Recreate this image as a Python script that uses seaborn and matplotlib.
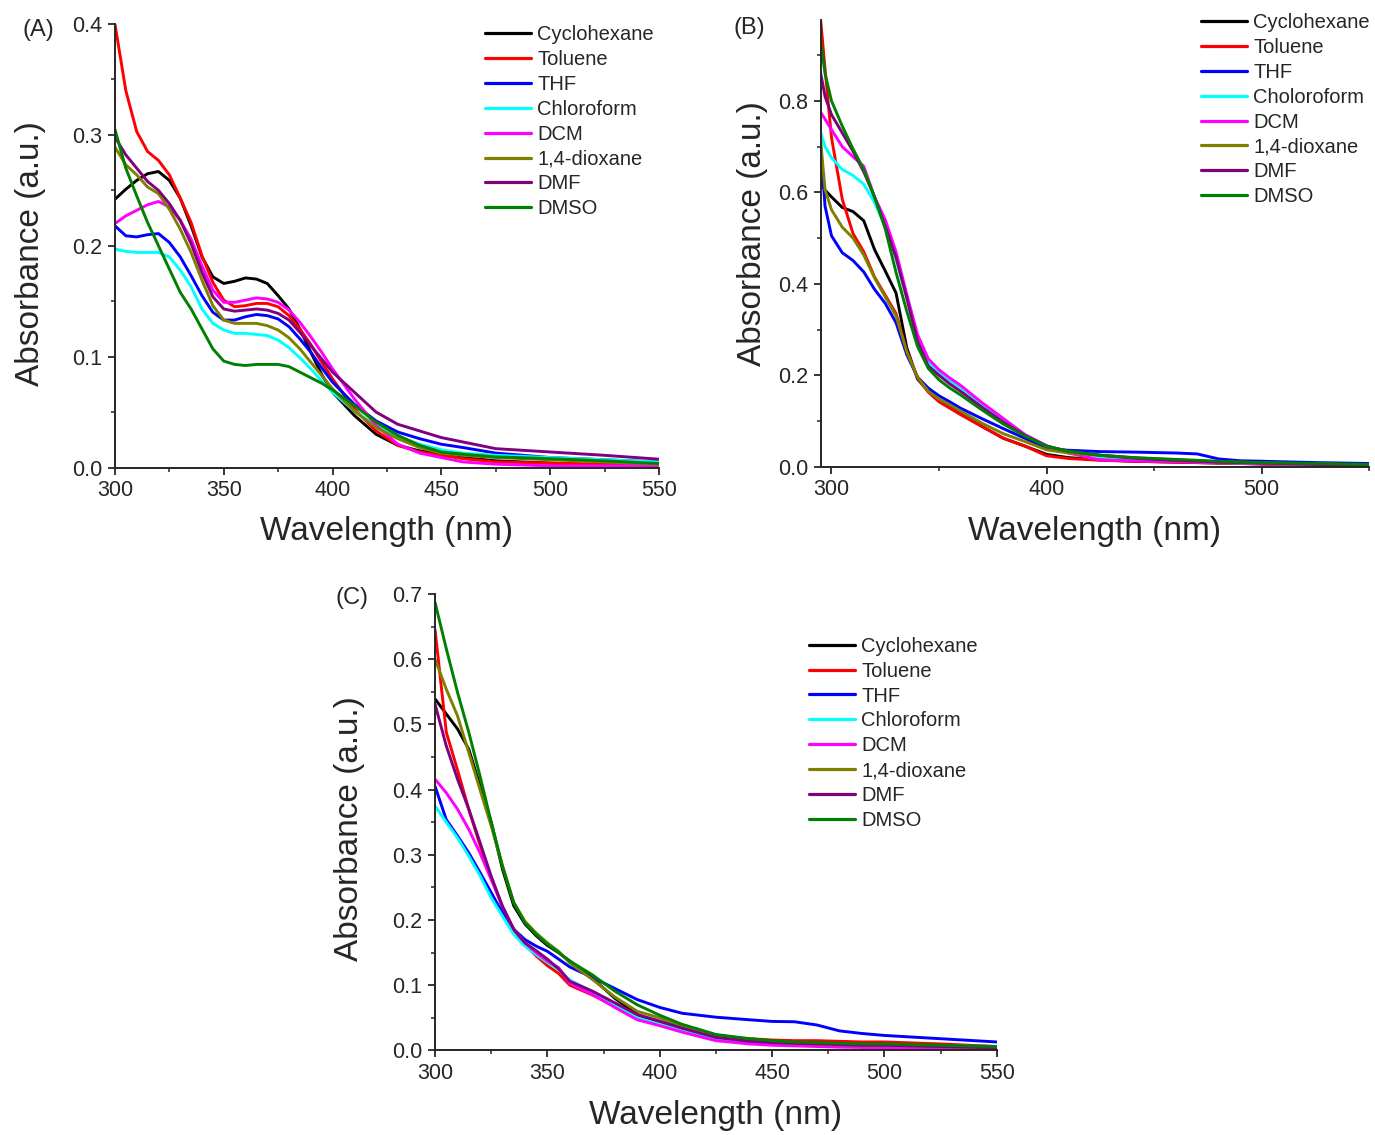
import pandas as pd
import matplotlib
matplotlib.use("Agg")
import matplotlib.pyplot as plt
from matplotlib.ticker import MultipleLocator
import seaborn as sns

sns.set_style('ticks')
plt.rcParams['font.family'] = ['Liberation Sans', 'DejaVu Sans']

# legend labels (panel B keeps the original spelling)
solvents = ['Cyclohexane', 'Toluene', 'THF', 'Chloroform', 'DCM', '1,4-dioxane', 'DMF', 'DMSO']
solvents_b = ['Cyclohexane', 'Toluene', 'THF', 'Choloroform', 'DCM', '1,4-dioxane', 'DMF', 'DMSO']
colors = ['#000000', '#FF0000', '#0000FF', '#00FFFF', '#FF00FF', '#808000', '#800080', '#008000']

# ---- Panel A ----
wl_a = [300, 305, 310, 315, 320, 325, 330, 335, 340, 345, 350, 355, 360, 365, 370, 375,
        380, 385, 390, 395, 400, 410, 420, 430, 440, 450, 460, 475, 500, 525, 550]
a_cyclohexane = [0.242, 0.251, 0.259, 0.265, 0.267, 0.259, 0.243, 0.218, 0.190, 0.172, 0.166, 0.168, 0.171, 0.170, 0.166, 0.155,
                 0.143, 0.125, 0.104, 0.084, 0.068, 0.047, 0.030, 0.020, 0.015, 0.012, 0.009, 0.006, 0.004, 0.002, 0.001]
a_toluene = [0.400, 0.340, 0.303, 0.285, 0.277, 0.264, 0.243, 0.221, 0.191, 0.167, 0.151, 0.145, 0.146, 0.148, 0.148, 0.145,
             0.137, 0.125, 0.111, 0.095, 0.080, 0.053, 0.033, 0.020, 0.014, 0.011, 0.008, 0.005, 0.004, 0.003, 0.002]
a_thf = [0.218, 0.209, 0.208, 0.210, 0.211, 0.203, 0.190, 0.173, 0.155, 0.140, 0.133, 0.133, 0.136, 0.138, 0.137, 0.134,
         0.127, 0.116, 0.104, 0.090, 0.077, 0.057, 0.042, 0.032, 0.026, 0.021, 0.018, 0.013, 0.009, 0.007, 0.005]
a_chloroform = [0.197, 0.195, 0.194, 0.194, 0.194, 0.190, 0.178, 0.163, 0.143, 0.130, 0.124, 0.121, 0.121, 0.120, 0.119, 0.115,
                0.108, 0.099, 0.089, 0.078, 0.068, 0.051, 0.038, 0.028, 0.021, 0.016, 0.013, 0.011, 0.009, 0.007, 0.005]
a_dcm = [0.220, 0.227, 0.232, 0.237, 0.240, 0.235, 0.223, 0.206, 0.182, 0.160, 0.149, 0.149, 0.151, 0.153, 0.152, 0.149,
         0.142, 0.131, 0.118, 0.104, 0.089, 0.062, 0.038, 0.021, 0.013, 0.009, 0.005, 0.003, 0.0015, 0.0015, 0.0015]
a_dioxane = [0.289, 0.273, 0.264, 0.253, 0.247, 0.233, 0.215, 0.194, 0.169, 0.146, 0.133, 0.130, 0.130, 0.130, 0.128, 0.124,
             0.117, 0.107, 0.095, 0.083, 0.071, 0.051, 0.036, 0.026, 0.018, 0.013, 0.011, 0.009, 0.007, 0.005, 0.003]
a_dmf = [0.298, 0.282, 0.270, 0.258, 0.250, 0.238, 0.223, 0.202, 0.176, 0.154, 0.143, 0.141, 0.142, 0.143, 0.142, 0.139,
         0.133, 0.122, 0.110, 0.098, 0.086, 0.068, 0.050, 0.039, 0.033, 0.027, 0.023, 0.017, 0.014, 0.011, 0.0075]
a_dmso = [0.305, 0.270, 0.245, 0.221, 0.200, 0.179, 0.158, 0.143, 0.125, 0.107, 0.096, 0.093, 0.092, 0.093, 0.093, 0.093,
          0.091, 0.086, 0.081, 0.076, 0.070, 0.056, 0.041, 0.029, 0.020, 0.014, 0.012, 0.0096, 0.008, 0.006, 0.0036]

# ---- Panel B ----
wl_b = [295, 297, 300, 305, 310, 315, 320, 325, 330, 335, 340, 345, 350, 355, 360, 370,
        380, 390, 400, 410, 425, 440, 450, 460, 470, 480, 490, 500, 525, 550]
b_cyclohexane = [0.620, 0.605, 0.590, 0.567, 0.558, 0.538, 0.475, 0.428, 0.380, 0.260, 0.192, 0.165, 0.145, 0.130, 0.115, 0.088,
                 0.062, 0.045, 0.027, 0.020, 0.015, 0.012, 0.011, 0.010, 0.009, 0.008, 0.007, 0.006, 0.004, 0.003]
b_toluene = [0.975, 0.870, 0.720, 0.585, 0.510, 0.470, 0.415, 0.375, 0.335, 0.253, 0.195, 0.163, 0.142, 0.128, 0.114, 0.088,
             0.062, 0.045, 0.024, 0.018, 0.014, 0.012, 0.011, 0.010, 0.009, 0.008, 0.007, 0.006, 0.004, 0.003]
b_thf = [0.700, 0.570, 0.505, 0.468, 0.451, 0.426, 0.388, 0.357, 0.315, 0.245, 0.196, 0.172, 0.155, 0.142, 0.128, 0.105,
         0.083, 0.062, 0.040, 0.036, 0.033, 0.032, 0.031, 0.030, 0.028, 0.017, 0.013, 0.012, 0.009, 0.007]
b_chloroform = [0.730, 0.700, 0.676, 0.650, 0.637, 0.618, 0.578, 0.525, 0.455, 0.368, 0.283, 0.228, 0.205, 0.187, 0.173, 0.137,
                0.103, 0.070, 0.045, 0.033, 0.022, 0.017, 0.014, 0.012, 0.011, 0.009, 0.008, 0.007, 0.005, 0.004]
b_dcm = [0.775, 0.760, 0.737, 0.700, 0.678, 0.657, 0.590, 0.540, 0.470, 0.377, 0.289, 0.236, 0.212, 0.194, 0.178, 0.140,
         0.105, 0.070, 0.046, 0.030, 0.015, 0.013, 0.012, 0.011, 0.010, 0.009, 0.008, 0.007, 0.005, 0.003]
b_dioxane = [0.710, 0.606, 0.562, 0.524, 0.500, 0.463, 0.413, 0.371, 0.330, 0.251, 0.196, 0.165, 0.148, 0.135, 0.122, 0.095,
             0.072, 0.055, 0.037, 0.030, 0.025, 0.020, 0.017, 0.015, 0.013, 0.011, 0.010, 0.009, 0.006, 0.004]
b_dmf = [0.860, 0.810, 0.770, 0.730, 0.690, 0.645, 0.590, 0.525, 0.458, 0.369, 0.274, 0.220, 0.200, 0.181, 0.165, 0.130,
         0.097, 0.068, 0.045, 0.034, 0.025, 0.019, 0.016, 0.014, 0.012, 0.010, 0.009, 0.008, 0.005, 0.003]
b_dmso = [0.930, 0.860, 0.800, 0.745, 0.695, 0.650, 0.590, 0.520, 0.425, 0.340, 0.263, 0.215, 0.190, 0.172, 0.157, 0.124,
          0.093, 0.067, 0.045, 0.034, 0.025, 0.020, 0.018, 0.016, 0.014, 0.012, 0.010, 0.009, 0.007, 0.005]

# ---- Panel C ----
wl_c = [300, 305, 310, 315, 320, 325, 330, 335, 340, 345, 350, 355, 360, 370,
        380, 390, 400, 410, 425, 440, 450, 460, 470, 480, 490, 500, 525, 550]
c_cyclohexane = [0.539, 0.516, 0.493, 0.462, 0.406, 0.350, 0.278, 0.222, 0.194, 0.176, 0.161, 0.150, 0.137, 0.111,
                 0.080, 0.055, 0.041, 0.031, 0.019, 0.014, 0.011, 0.010, 0.009, 0.008, 0.008, 0.007, 0.006, 0.005]
c_toluene = [0.645, 0.488, 0.430, 0.370, 0.315, 0.265, 0.220, 0.185, 0.162, 0.145, 0.130, 0.118, 0.100, 0.085,
             0.068, 0.050, 0.040, 0.031, 0.022, 0.018, 0.016, 0.015, 0.015, 0.014, 0.013, 0.013, 0.010, 0.006]
c_thf = [0.405, 0.354, 0.329, 0.303, 0.273, 0.242, 0.211, 0.186, 0.170, 0.160, 0.152, 0.140, 0.128, 0.112,
         0.095, 0.078, 0.066, 0.057, 0.051, 0.047, 0.0445, 0.044, 0.039, 0.030, 0.026, 0.023, 0.018, 0.013]
c_chloroform = [0.375, 0.350, 0.326, 0.298, 0.268, 0.234, 0.206, 0.178, 0.160, 0.147, 0.135, 0.124, 0.108, 0.090,
                0.070, 0.050, 0.040, 0.030, 0.018, 0.013, 0.011, 0.010, 0.009, 0.009, 0.008, 0.008, 0.007, 0.006]
c_dcm = [0.416, 0.395, 0.370, 0.339, 0.303, 0.262, 0.221, 0.186, 0.165, 0.150, 0.137, 0.127, 0.103, 0.086,
         0.066, 0.047, 0.038, 0.028, 0.015, 0.010, 0.008, 0.007, 0.006, 0.005, 0.0045, 0.004, 0.002, 0.001]
c_dioxane = [0.600, 0.554, 0.513, 0.457, 0.400, 0.344, 0.283, 0.227, 0.198, 0.180, 0.165, 0.152, 0.134, 0.109,
             0.082, 0.060, 0.050, 0.037, 0.023, 0.016, 0.013, 0.011, 0.010, 0.009, 0.008, 0.008, 0.006, 0.004]
c_dmf = [0.531, 0.467, 0.416, 0.370, 0.319, 0.267, 0.221, 0.186, 0.165, 0.153, 0.140, 0.125, 0.106, 0.091,
         0.073, 0.055, 0.045, 0.034, 0.020, 0.014, 0.012, 0.011, 0.010, 0.009, 0.008, 0.008, 0.006, 0.004]
c_dmso = [0.687, 0.616, 0.549, 0.488, 0.421, 0.350, 0.283, 0.227, 0.196, 0.178, 0.163, 0.150, 0.137, 0.116,
          0.091, 0.070, 0.054, 0.040, 0.0245, 0.018, 0.015, 0.013, 0.012, 0.011, 0.010, 0.010, 0.008, 0.006]


def long_table(wl, series, labels):
    frames = []
    for name, vals in zip(labels, series):
        frames.append(pd.DataFrame({'wl': wl, 'absorbance': vals, 'solvent': name}))
    return pd.concat(frames, ignore_index=True)


def draw_panel(ax, wl, series, labels, xlim, ylim, xmaj, ymaj, leg_anchor, ylab_xy, xlab_xy):
    df = long_table(wl, series, labels)
    sns.lineplot(data=df, x='wl', y='absorbance', hue='solvent', hue_order=labels,
                 palette=dict(zip(labels, colors)), linewidth=2.1, estimator=None,
                 sort=False, ax=ax)
    ax.set_xlim(*xlim)
    ax.set_ylim(*ylim)
    ax.xaxis.set_major_locator(MultipleLocator(xmaj))
    ax.xaxis.set_minor_locator(MultipleLocator(xmaj / 2))
    ax.yaxis.set_major_locator(MultipleLocator(ymaj))
    ax.yaxis.set_minor_locator(MultipleLocator(ymaj / 2))
    sns.despine(ax=ax)
    for s in ['left', 'bottom']:
        ax.spines[s].set_linewidth(1.4)
    ax.tick_params(which='major', direction='out', length=5, width=1.3, labelsize=15.5, pad=4)
    ax.tick_params(which='minor', direction='out', length=3, width=1.1)
    ax.set_xlabel('Wavelength (nm)', fontsize=24)
    ax.set_ylabel('Absorbance (a.u.)', fontsize=24)
    ax.yaxis.set_label_coords(*ylab_xy)
    ax.xaxis.set_label_coords(*xlab_xy)
    leg = ax.legend(loc='upper left', bbox_to_anchor=leg_anchor, frameon=False, fontsize=14.5,
                    handlelength=2.3, handletextpad=0.3, labelspacing=0.29,
                    borderpad=0, borderaxespad=0)
    for h in leg.get_lines():
        h.set_linewidth(2.3)


fig = plt.figure(figsize=(13.75, 11.35), dpi=100)

ax_a = fig.add_axes([0.0836, 0.5881, 0.3956, 0.3907])
draw_panel(ax_a, wl_a,
           [a_cyclohexane, a_toluene, a_thf, a_chloroform, a_dcm, a_dioxane, a_dmf, a_dmso],
           solvents, (300, 550), (0, 0.4), 50, 0.1,
           (0.68, 0.997), (-0.127, 0.4825), (0.5, -0.11))

ax_b = fig.add_axes([0.5969, 0.5888, 0.3989, 0.3936])
draw_panel(ax_b, wl_b,
           [b_cyclohexane, b_toluene, b_thf, b_chloroform, b_dcm, b_dioxane, b_dmf, b_dmso],
           solvents_b, (295, 550), (0, 0.977), 100, 0.2,
           (0.693, 1.015), (-0.096, 0.522), (0.5, -0.111))
ax_b.yaxis.set_minor_locator(MultipleLocator(0.1))

ax_c = fig.add_axes([0.3164, 0.0745, 0.4085, 0.4022])
draw_panel(ax_c, wl_c,
           [c_cyclohexane, c_toluene, c_thf, c_chloroform, c_dcm, c_dioxane, c_dmf, c_dmso],
           solvents, (300, 550), (0, 0.7), 50, 0.1,
           (0.6655, 0.906), (-0.125, 0.485), (0.5, -0.108))

fig.text(38 / 1375, 1 - 30 / 1135, '(A)', fontsize=17, ha='center', va='center')
fig.text(749 / 1375, 1 - 28 / 1135, '(B)', fontsize=17, ha='center', va='center')
fig.text(352 / 1375, 1 - 598 / 1135, '(C)', fontsize=17, ha='center', va='center')

fig.savefig('out.png', dpi=100)
